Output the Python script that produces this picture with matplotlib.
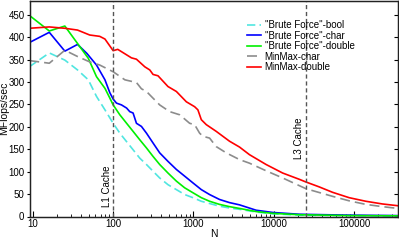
import matplotlib
matplotlib.use("Agg")
import matplotlib.pyplot as plt
from matplotlib.ticker import FixedLocator, FixedFormatter, LogLocator, NullFormatter

plt.rcParams['font.family'] = ['Liberation Sans', 'DejaVu Sans']

# ---- data ----
bool_N = [9, 16, 25, 36, 49, 62, 79, 91, 100, 121, 147, 177, 215, 260, 314, 380, 482, 613, 778,
          986, 1254, 1589, 2115, 2816, 3750, 6040, 9720, 20850, 87100, 354000]
bool_v = [334, 365, 349, 327, 305, 268, 238, 220, 208, 186, 167, 149, 130, 116, 101, 86, 71, 60, 49,
          42, 34, 29, 23, 19, 16, 10, 6, 3, 2, 1]

char_N = [9, 16, 25, 36, 47, 62, 79, 91, 100, 110, 127, 147, 161, 177, 195, 225, 260, 314, 380, 482,
          613, 778, 986, 1254, 1589, 2115, 2816, 3750, 6040, 9720, 20850, 87100, 354000]
char_v = [388, 411, 369, 384, 364, 338, 305, 276, 262, 253, 249, 242, 234, 231, 208, 201, 186, 164, 142, 123,
          105, 90, 75, 60, 49, 38, 31, 26, 14, 9, 5, 3, 2]

dbl_N = [9, 16, 25, 36, 49, 62, 79, 91, 100, 121, 147, 177, 215, 260, 314, 380, 482, 613, 778,
         986, 1254, 1589, 2115, 2816, 3750, 6040, 9720, 20850, 87100, 354000]
dbl_v = [449, 414, 425, 386, 353, 312, 286, 264, 249, 227, 208, 190, 171, 153, 134, 116, 97, 79, 64,
         53, 42, 34, 27, 22, 18, 11, 7, 4, 2, 1.5]

mmc_N = [9, 16, 25, 36, 51, 68, 100, 140, 195, 225, 260, 314, 380, 506, 674, 897, 1035, 1194, 1312,
         1589, 1923, 2563, 3750, 4990, 8050, 12940, 25240, 54100, 87100, 140600, 226000, 354000]
mmc_v = [348, 342, 371, 357, 345, 338, 323, 305, 299, 285, 279, 264, 249, 234, 227, 208, 205, 186, 179,
         175, 156, 142, 127, 119, 102, 86, 62, 45, 35, 27, 22, 18]

mmd_N = [9, 16, 25, 36, 51, 68, 79, 100, 114, 169, 195, 248, 286, 314, 362, 482, 613, 816, 1035, 1137,
         1254, 1446, 1923, 2816, 3750, 4990, 8050, 12940, 20850, 25240, 37000, 54100, 87100, 140600,
         226000, 354000]
mmd_v = [420, 423, 420, 416, 405, 402, 396, 370, 373, 354, 351, 334, 327, 317, 314, 290, 279, 256, 245, 238,
         216, 205, 190, 168, 155, 138, 116, 97, 83, 77, 66, 54, 42, 34,
         28, 24]

labels = ['"Brute Force"-bool', '"Brute Force"-char', '"Brute Force"-double', 'MinMax-char', 'MinMax-double']
cache_N = [100, 25240]
cache_labels = ['L1 Cache', 'L3 Cache']
yticks = [0, 50, 100, 150, 200, 250, 300, 350, 400, 450]
xticks = [10, 100, 1000, 10000, 100000]
xticklabels = ['10', '100', '1000', '10000', '100000']

# ---- figure ----
fig = plt.figure(figsize=(3.99, 2.41), dpi=100)
ax = fig.add_axes([30/399, 24.5/241, 368/399, 216/241])

ax.plot(bool_N, bool_v, color='#50e6e0', lw=1.2, ls=(0, (5, 2.5)), label=labels[0])
ax.plot(char_N, char_v, color='#0000ff', lw=1.2, label=labels[1])
ax.plot(dbl_N, dbl_v, color='#00f000', lw=1.2, label=labels[2])
ax.plot(mmc_N, mmc_v, color='#8c8c8c', lw=1.2, ls=(0, (6, 3)), label=labels[3])
ax.plot(mmd_N, mmd_v, color='#ff0000', lw=1.2, label=labels[4])

for n in cache_N:
    ax.axvline(n, color='#555555', lw=1.0, ls=(0, (3, 2)))
ax.text(96, 22, cache_labels[0], rotation=90, ha='right', va='bottom', fontsize=7)
ax.text(24000, 128, cache_labels[1], rotation=90, ha='right', va='bottom', fontsize=7)

ax.set_xscale('log')
ax.set_xlim(9.2, 354000)
ax.set_ylim(0, 482)

ax.xaxis.set_major_locator(FixedLocator(xticks))
ax.xaxis.set_major_formatter(FixedFormatter(xticklabels))
ax.xaxis.set_minor_locator(LogLocator(base=10, subs=range(2, 10), numticks=20))
ax.xaxis.set_minor_formatter(NullFormatter())
ax.set_yticks(yticks)

ax.tick_params(axis='x', which='major', direction='in', length=4, width=0.8, labelsize=7, pad=2)
ax.tick_params(axis='x', which='minor', direction='in', length=2.5, width=0.6)
ax.tick_params(axis='y', which='major', direction='out', length=2.5, width=0.8, labelsize=7, pad=1.5)

ax2 = ax.twinx()
ax2.set_ylim(0, 482)
ax2.set_yticks(yticks)
ax2.tick_params(axis='y', direction='in', length=3, width=0.8, labelright=False)

for a in (ax, ax2):
    for s in a.spines.values():
        s.set_linewidth(0.9)
        s.set_color('#222222')

ax.set_xlabel('N', fontsize=7.5)
ax.xaxis.set_label_coords(0.5, -0.06)
ax.set_ylabel('MFlops/sec', fontsize=7.5)
ax.yaxis.set_label_coords(-0.056, 0.5)

leg = ax.legend(loc='upper right', bbox_to_anchor=(0.90, 0.94), frameon=False, fontsize=7,
                handlelength=1.4, handletextpad=0.4, labelspacing=0.05, borderpad=0.2)

fig.savefig('out.png', dpi=100)
